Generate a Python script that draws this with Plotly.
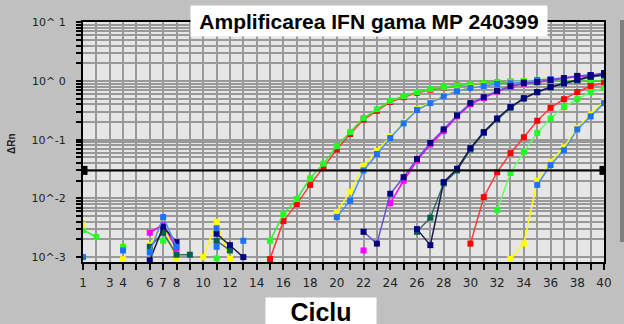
import plotly.graph_objects as go

# ---------------- data ----------------
x_tick_labels = {1: "1", 3: "3", 4: "4", 6: "6", 7: "7", 8: "8", 10: "10", 12: "12", 14: "14",
                 16: "16", 18: "18", 20: "20", 22: "22", 24: "24", 26: "26", 28: "28",
                 30: "30", 32: "32", 34: "34", 36: "36", 38: "38", 40: "40"}
y_decades = [0.001, 0.01, 0.1, 1, 10]
y_decade_labels = ["10^-3", "10^-2", "10^-1", "10^ 0", "10^ 1"]
threshold = 0.03

red_early_x = list(range(15, 41))
red_early_y = [0.00093, 0.0041, 0.008, 0.017, 0.034, 0.068, 0.125, 0.22, 0.31, 0.44, 0.53, 0.63, 0.71,
               0.78, 0.84, 0.88, 0.92, 0.95, 0.97, 0.98, 0.99, 1.0, 1.0, 1.0, 1.0, 1.0]
green_early_x = list(range(15, 41))
green_early_y = [0.0019, 0.0054, 0.0098, 0.022, 0.039, 0.078, 0.135, 0.234, 0.33, 0.46, 0.55, 0.65, 0.73,
                 0.79, 0.84, 0.89, 0.92, 0.96, 0.98, 1.0, 1.0, 1.0, 1.0, 1.0, 1.0, 1.0]
yellow_b_x = list(range(20, 41))
yellow_b_y = [0.0059, 0.013, 0.036, 0.064, 0.115, 0.2, 0.33, 0.43, 0.56, 0.68, 0.77, 0.83, 0.89, 0.93,
              0.97, 1.04, 1.08, 1.12, 1.2, 1.24, 1.28]
blue_b_x = list(range(20, 41))
blue_b_y = [0.0048, 0.0091, 0.030, 0.057, 0.107, 0.19, 0.32, 0.42, 0.55, 0.67, 0.76, 0.82, 0.89, 0.92,
            0.96, 1.04, 1.08, 1.12, 1.22, 1.26, 1.3]
magenta_c_x = list(range(22, 41))
magenta_c_y = [0.0013, None, 0.0083, 0.020, 0.044, 0.083, 0.14, 0.25, 0.40, 0.51, 0.66, 0.80, 0.90,
               0.95, 1.02, 1.10, 1.19, 1.24, 1.33]
violet_c_x = list(range(22, 41))
violet_c_y = [0.0027, 0.0017, 0.012, 0.023, 0.047, 0.088, 0.15, 0.26, 0.42, 0.53, 0.68, 0.82, 0.92,
              0.96, 1.04, 1.12, 1.22, 1.26, 1.37]
teal_d_x = list(range(26, 41))
teal_d_y = [0.0027, 0.0047, 0.018, 0.030, 0.068, 0.13, 0.22, 0.35, 0.5, 0.64, 0.78, 0.9, 1.02, 1.17, 1.25]
navy_d_x = list(range(26, 41))
navy_d_y = [0.003, 0.0016, 0.019, 0.032, 0.072, 0.135, 0.23, 0.36, 0.51, 0.65, 0.79, 0.92, 1.05, 1.2, 1.28]
red_e_x = list(range(30, 41))
red_e_y = [0.0017, 0.0105, 0.028, 0.059, 0.11, 0.21, 0.35, 0.49, 0.65, 0.82, 0.92]
green_f_x = list(range(32, 41))
green_f_y = [0.0063, 0.027, 0.062, 0.13, 0.23, 0.36, 0.49, 0.65, 0.76]
yellow_g_x = list(range(33, 41))
yellow_g_y = [0.00093, 0.0017, 0.020, 0.042, 0.074, 0.16, 0.27, 0.45]
blue_g_x = list(range(35, 41))
blue_g_y = [0.017, 0.037, 0.066, 0.15, 0.25, 0.42]

# baseline noise (cycles 1-13)
green_n_x = list(range(1, 12))
green_n_y = [0.0029, 0.0022, None, 0.0015, None, None, 0.0019, None, None, None, 0.00095]
yellow_n_x = list(range(1, 13))
yellow_n_y = [0.0035, None, None, 0.00092, None, 0.0016, 0.0038, 0.00089, None, 0.001, 0.004, 0.00093]
blue_n_x = list(range(1, 14))
blue_n_y = [0.001, None, None, 0.0013, None, 0.0012, 0.0048, 0.0015, None, None, 0.0031, None, 0.0019]
blue_n2_x = [11]
blue_n2_y = [0.0015]
navy_n_x = list(range(6, 14))
navy_n_y = [0.00088, 0.0033, 0.0018, None, None, 0.0025, 0.0016, 0.001]
teal_n_x = list(range(6, 13))
teal_n_y = [0.0015, 0.0026, 0.0011, 0.0011, None, 0.0019, 0.0013]
magenta_n_x = [6, 7, 8]
magenta_n_y = [0.0026, 0.0036, 0.0014]

RED, GREEN, YELLOW, BLUE = "#ff0000", "#22ff22", "#ffff00", "#1a72ff"
NAVY, MAGENTA, TEAL, VIOLET = "#000080", "#ff00ff", "#006050", "#6a50d8"

series = [
    (red_early_x, red_early_y, "#ff3a3a", RED),
    (green_early_x, green_early_y, "#33ee33", GREEN),
    (yellow_b_x, yellow_b_y, YELLOW, YELLOW),
    (blue_b_x, blue_b_y, "#4a90ff", BLUE),
    (magenta_c_x, magenta_c_y, MAGENTA, MAGENTA),
    (violet_c_x, violet_c_y, VIOLET, NAVY),
    (teal_d_x, teal_d_y, "#3a6a60", TEAL),
    (navy_d_x, navy_d_y, "#1a1a50", NAVY),
    (red_e_x, red_e_y, "#ff3a3a", RED),
    (green_f_x, green_f_y, "#66ff66", GREEN),
    (yellow_g_x, yellow_g_y, YELLOW, YELLOW),
    (blue_g_x, blue_g_y, "#4a90ff", BLUE),
    (green_n_x, green_n_y, "#33ee33", GREEN),
    (yellow_n_x, yellow_n_y, YELLOW, YELLOW),
    (teal_n_x, teal_n_y, "#3a6a60", TEAL),
    (magenta_n_x, magenta_n_y, MAGENTA, MAGENTA),
    (navy_n_x, navy_n_y, "#1a1a50", NAVY),
    (blue_n_x, blue_n_y, "#4a90ff", BLUE),
    (blue_n2_x, blue_n2_y, "#4a90ff", BLUE),
]

fig = go.Figure()
for xs, ys, lc, mc in series:
    fig.add_trace(go.Scatter(x=xs, y=ys, mode="lines+markers",
                             line=dict(color=lc, width=1.5),
                             marker=dict(symbol="square", size=6, color=mc, line=dict(width=0)),
                             connectgaps=False, hoverinfo="skip"))

# threshold line
fig.add_trace(go.Scatter(x=[1, 40], y=[threshold, threshold], mode="lines+markers",
                         line=dict(color="black", width=2),
                         marker=dict(symbol="square", size=9, color="black"),
                         hoverinfo="skip"))

# y ticks (all log minor positions, labels only at decades)
y_tickvals, y_ticktext = [], []
for d, lab in zip(y_decades, y_decade_labels):
    y_tickvals.append(d)
    y_ticktext.append(lab)
    if d < 10:
        for k in range(2, 10):
            y_tickvals.append(k * d)
            y_ticktext.append("")

x_tickvals = list(range(1, 41))
x_ticktext = [x_tick_labels.get(v, "") for v in x_tickvals]

fig.update_layout(
    width=624, height=324,
    margin=dict(l=83, r=20, t=22, b=62),
    paper_bgcolor="#c0c0c0", plot_bgcolor="#e6e6e6",
    showlegend=False,
    font=dict(family="DejaVu Sans", color="#222222"),
)
fig.update_xaxes(
    range=[1, 40], tickmode="array", tickvals=x_tickvals, ticktext=x_ticktext,
    showgrid=True, gridcolor="#999999", gridwidth=2, zeroline=False,
    ticks="outside", ticklen=6, tickwidth=1.5, tickcolor="black",
    showline=True, linecolor="black", linewidth=2, mirror=True,
    tickfont=dict(family="DejaVu Sans", size=12, color="#222222"),
    ticklabelstandoff=3,
)
fig.update_yaxes(
    type="log", range=[-3.083, 1.005], tickmode="array", tickvals=y_tickvals, ticktext=y_ticktext,
    showgrid=True, gridcolor="#999999", gridwidth=1.5, zeroline=False,
    ticks="outside", ticklen=5, tickwidth=1.5, tickcolor="black",
    showline=True, linecolor="black", linewidth=2, mirror=True,
    tickfont=dict(family="DejaVu Sans", size=11, color="#222222"),
    ticklabelstandoff=8,
)

# title box
fig.add_annotation(xref="paper", yref="paper", x=0.2054, y=1.0708, xanchor="left", yanchor="top",
                   text="<b>Amplificarea IFN gama MP 240399</b>", showarrow=False,
                   width=356, height=30, bgcolor="white", borderpad=0, align="center", valign="middle",
                   font=dict(family="Liberation Sans", size=21, color="black"))
# x-axis title box
fig.add_annotation(xref="paper", yref="paper", x=0.3493, y=-0.1458, xanchor="left", yanchor="top",
                   text="<b>Ciclu</b>", showarrow=False,
                   width=110, height=27, bgcolor="white", borderpad=0, align="center", valign="middle",
                   font=dict(family="Liberation Sans", size=25, color="black"))
# y-axis title
fig.add_annotation(xref="paper", yref="paper", x=-0.1382, y=0.4958, xanchor="center", yanchor="middle",
                   text="<b>ΔRn</b>", showarrow=False, textangle=-90,
                   font=dict(family="Liberation Sans", size=10, color="#222222"))
# right-side strip
fig.add_shape(type="rect", xref="paper", yref="paper", x0=1.0307, x1=1.0384, y0=0.0833, y1=1.008,
              fillcolor="#808080", line=dict(width=0), layer="above")

fig.write_html("out.html")
